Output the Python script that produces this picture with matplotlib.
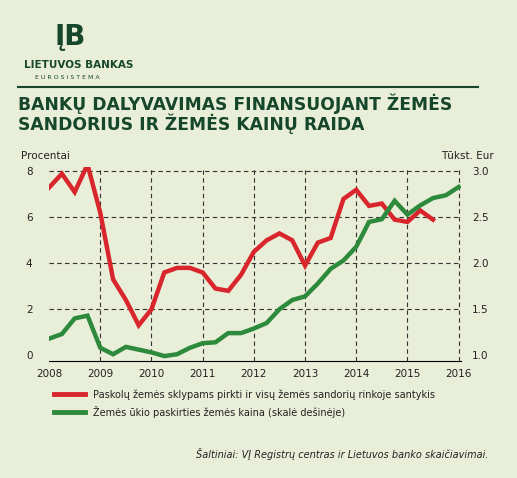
import matplotlib.pyplot as plt
import numpy as np

# quarterly data
red_x = np.arange(31) * 0.25 + 2008
red = [7.3, 7.9, 7.1, 8.3, 6.2, 3.3, 2.4, 1.3, 2.0, 3.6, 3.8, 3.8, 3.6, 2.9, 2.8, 3.5,
       4.5, 5.0, 5.3, 5.0, 3.9, 4.9, 5.1, 6.8, 7.2, 6.5, 6.6, 5.9, 5.8, 6.3, 5.9]
green_x = np.arange(33) * 0.25 + 2008
green_eur = [1.18, 1.23, 1.40, 1.43, 1.08, 1.01, 1.09, 1.06, 1.03, 0.99, 1.01, 1.08,
             1.13, 1.14, 1.24, 1.24, 1.29, 1.35, 1.50, 1.60, 1.64, 1.78, 1.94, 2.03,
             2.18, 2.45, 2.48, 2.68, 2.53, 2.63, 2.71, 2.74, 2.83]
years = list(range(2008, 2017))

bg = "#e9eed8"
dark = "#16472b"
fig = plt.figure(figsize=(5.17, 4.78), dpi=100, facecolor=bg)

# header
fig.text(0.135, 0.905, "ĮB", fontsize=20, fontweight="bold", color=dark, ha="center")
fig.text(0.047, 0.858, "LIETUVOS BANKAS", fontsize=7.5, fontweight="bold", color=dark)
fig.text(0.068, 0.835, "E U R O S I S T E M A", fontsize=4.5, color=dark)
fig.add_artist(plt.Line2D([0.035, 0.925], [0.818, 0.818], color=dark, lw=1.5))
fig.text(0.035, 0.77, "BANKŲ DALYVAVIMAS FINANSUOJANT ŽEMĖS", fontsize=12.3,
         fontweight="bold", color=dark)
fig.text(0.035, 0.727, "SANDORIUS IR ŽEMĖS KAINŲ RAIDA", fontsize=12.3,
         fontweight="bold", color=dark)

ax = fig.add_axes([0.095, 0.245, 0.797, 0.406], facecolor=bg)
ax.set_xlim(2008, 2016.05)
ax.set_ylim(-0.25, 8.2)
ax.set_yticks([0, 2, 4, 6, 8])
ax.set_xticks(years)
for y in [2, 4, 6, 8]:
    ax.axhline(y, color="#333333", ls=(0, (4, 3)), lw=0.8)
for x in years[1:]:
    ax.axvline(x, color="#333333", ls=(0, (4, 3)), lw=0.8)
for s in ["top", "left", "right"]:
    ax.spines[s].set_visible(False)
ax.tick_params(length=0, labelsize=7.5, colors="#222222")
ax.tick_params(axis="y", pad=12)
ax.tick_params(axis="x", pad=6)

ax2 = ax.twinx()
ax2.set_ylim(1 - 0.25 / 4, 1 + 8.2 / 4)
ax2.set_yticks([1.0, 1.5, 2.0, 2.5, 3.0])
ax2.set_yticklabels(["1.0", "1.5", "2.0", "2.5", "3.0"])
for s in ax2.spines.values():
    s.set_visible(False)
ax2.tick_params(length=0, labelsize=7.5, colors="#222222", pad=8)

ax.plot(red_x, red, color="#d8262c", lw=3.2, solid_joinstyle="miter")
ax2.plot(green_x, green_eur, color="#2d8a3c", lw=3.2, solid_joinstyle="miter")

fig.text(0.04, 0.668, "Procentai", fontsize=7.5, color="#222222")
fig.text(0.955, 0.668, "Tūkst. Eur", fontsize=7.5, color="#222222", ha="right")

# legend
fig.add_artist(plt.Line2D([0.105, 0.165], [0.175, 0.175], color="#d8262c", lw=3.5))
fig.add_artist(plt.Line2D([0.105, 0.165], [0.139, 0.139], color="#2d8a3c", lw=3.5))
fig.text(0.18, 0.175, "Paskolų žemės sklypams pirkti ir visų žemės sandorių rinkoje santykis",
         fontsize=7, va="center", color="#222222")
fig.text(0.18, 0.139, "Žemės ūkio paskirties žemės kaina (skalė dešinėje)",
         fontsize=7, va="center", color="#222222")
fig.text(0.945, 0.042, "Šaltiniai: VĮ Registrų centras ir Lietuvos banko skaičiavimai.",
         fontsize=7, style="italic", ha="right", color="#222222")

fig.savefig("out.png", dpi=100, facecolor=bg)
